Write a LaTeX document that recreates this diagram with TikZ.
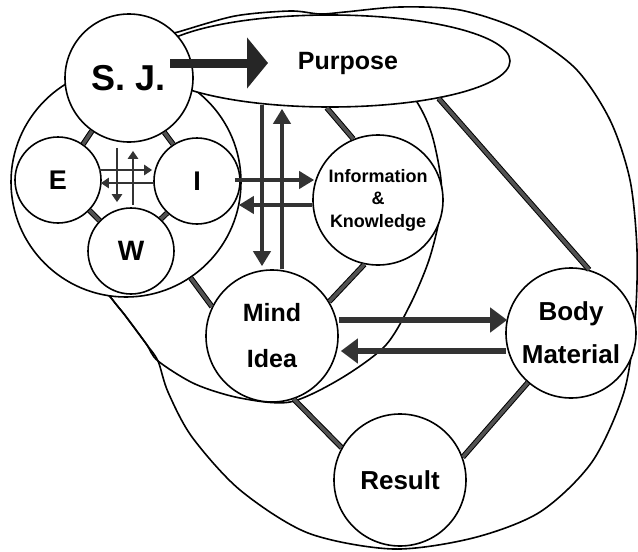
\documentclass[tikz,border=0pt]{standalone}
\usepackage{fontspec}
\setmainfont{Liberation Sans}
\usetikzlibrary{arrows.meta,shapes.geometric,calc}
\begin{document}
\begin{tikzpicture}[x=1pt,y=-1pt,
  ring/.style={circle,draw,line width=1.6pt,fill=white,inner sep=0pt,align=center},
  region/.style={line width=1.6pt},
  link/.style={draw=black,line width=1pt,double=black!68,double distance=3.5pt},
  bigarrow/.style={line width=9pt,draw=black!85,-{Triangle[length=21pt,width=50pt]}},
  widearrow/.style={line width=6pt,draw=black!80,-{Triangle[length=17pt,width=24pt]}},
  midarrow/.style={line width=4.5pt,draw=black!80,-{Triangle[length=15pt,width=17pt]}},
  smallarrow/.style={line width=2pt,draw=black!80,-{Triangle[length=8pt,width=10pt]}}]
  \useasboundingbox (0,0) rectangle (638,552);
  % outer region
  \draw[region] plot[smooth cycle] coordinates {(178,32) (235,16) (290,11) (320,14) (345,12) (400,7) (460,10) (520,30) (575,68) (610,120) (630,180) (637,250) (635,320) (624,392) (592,462) (540,512) (473,538) (393,549) (308,533) (240,490) (192,437) (168,392) (158,361) (147,345) (136,330) (124,314) (112,299) (90,268) (70,170) (100,80) (150,40)};
  % mind region
  \draw[region] plot[smooth cycle] coordinates {(158,361) (195,384) (240,398) (290,402) (340,379) (385,346) (410,305) (429,260) (440,215) (441,180) (432,135) (417,102) (380,50) (300,40) (220,55) (170,90) (120,150) (85,220) (90,268) (112,299) (124,314) (136,330) (147,345)};
  \node[ring,minimum size=230pt] (self) at (126,182) {};
  \node[ellipse,draw,line width=1.6pt,fill=white,minimum width=360pt,minimum height=92pt,inner sep=0pt] (purpose) at (330,61) {};
  \node[inner sep=0pt,font=\fontsize{25}{28}\selectfont\bfseries] (purposetext) at (348,63) {Purpose};
  \node[ring,minimum size=128pt,font=\fontsize{36}{40}\selectfont\bfseries] (sj) at (129,78) {S. J.};
  \node[ring,minimum size=86pt,font=\fontsize{27}{30}\selectfont\bfseries] (e) at (58,180) {E};
  \node[ring,minimum size=86pt,font=\fontsize{27}{30}\selectfont\bfseries] (i) at (197,181) {I};
  \node[ring,minimum size=86pt,font=\fontsize{28}{30}\selectfont\bfseries] (w) at (131,251) {W};
  \node[ring,minimum size=130pt,font=\fontsize{18}{22.5}\selectfont\bfseries] (info) at (378,200) {Information\\\&\\Knowledge};
  \node[ring,minimum size=132pt,font=\fontsize{25}{46}\selectfont\bfseries] (mind) at (272,336) {Mind\\Idea};
  \node[ring,minimum size=130pt,font=\fontsize{26}{43}\selectfont\bfseries] (body) at (571,333) {Body\\Material};
  \node[ring,minimum size=132pt,font=\fontsize{26}{30}\selectfont\bfseries] (result) at (400,480) {Result};
  \draw[link] (sj.235) -- (e.55);
  \draw[link] (sj.-57) -- (i.123);
  \draw[link] (e.-44) -- (w.136);
  \draw[link] (w.47) -- (i.227);
  \draw[link] (self.-56) -- (mind.154);
  \draw[link] (purpose.266) -- (info.112);
  \draw[link] (purpose.-19) -- (body.74);
  \draw[link] (info.258) -- (mind.31);
  \draw[link] (mind.-71) -- (result.151);
  \draw[link] (body.229) -- (result.20);
  \coordinate (aim) at (268,63);
  \draw[bigarrow] ($(sj.center)+(41,-15)$) -- (aim);
  \draw[midarrow] ($(purpose.south)+(-68,-3)$) -- ($(mind.north)+(-10,-3)$);
  \draw[midarrow] ($(mind.north)+(10,0)$) -- ($(purpose.south)+(-48,1)$);
  \draw[midarrow] ($(i.east)+(-6,-1)$) -- ($(info.west)+(2,-20)$);
  \draw[midarrow] ($(info.west)+(0,5)$) -- ($(i.east)+(-2,24)$);
  \draw[smallarrow] ($(e.east)+(-3,-10)$) -- ($(i.west)+(-1,-11)$);
  \draw[smallarrow] ($(i.west)+(1,2)$) -- ($(e.east)+(-1,3)$);
  \draw[smallarrow] ($(sj.south)+(-12,5)$) -- ($(w.north)+(-14,-5)$);
  \draw[smallarrow] ($(w.north)+(2,-2)$) -- ($(sj.south)+(4,8)$);
  \draw[widearrow] ($(mind.east)+(0,-16)$) -- ($(body.west)+(2,-13)$);
  \draw[widearrow] ($(body.west)+(1,18)$) -- ($(mind.east)+(2,15)$);
\end{tikzpicture}
\end{document}
